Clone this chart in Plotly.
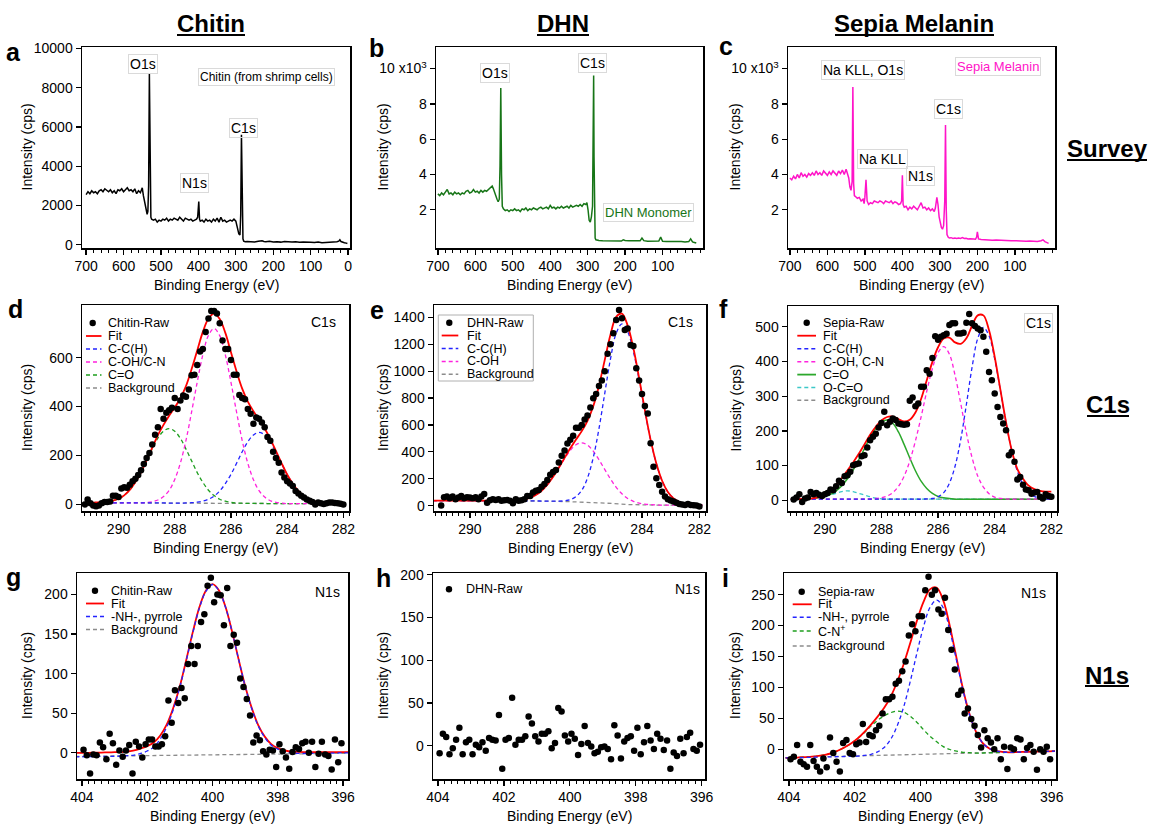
import numpy as np
import plotly.graph_objects as go

W, H = 1149, 824
FONT = "Liberation Sans, Arial, Helvetica, sans-serif"

# ======================= DATA =======================
# ---- (a) Chitin survey ----
survey_chitin_E = [700,695,690,685,680,675,670,665,660,655,650,645,640,635,630,625,620,615,610,605,600,595,590,585,580,575,570,565,560,555,550,
                   547,543,540,537,535,533,531,529,527,525,
                   520,515,510,505,500,495,490,485,480,475,470,465,460,455,450,445,440,435,430,425,420,415,410,405,
                   402,399,397,395,
                   390,385,380,375,370,365,360,355,350,345,340,335,330,325,320,315,310,305,300,
                   298,295,292,289,287,285,283,281,279,275,270,
                   260,250,240,230,225,220,
                   210,200,190,180,170,160,150,140,130,120,110,100,90,80,70,60,50,40,30,
                   25,22,19,15,10,5,2]
survey_chitin_I = [2550,2700,2600,2750,2650,2700,2600,2750,2800,2700,2850,2750,2700,2800,2650,2750,2600,2800,2750,2850,2700,2800,2900,2750,2800,2700,2850,2600,2750,2650,2900,
                   2500,2100,1800,1550,1700,3000,8700,2500,1400,1300,
                   1250,1300,1150,1250,1200,1300,1250,1350,1200,1300,1250,1350,1300,1250,1400,1300,1200,1350,1300,1250,1300,1200,1250,1300,
                   1400,2200,1300,1200,
                   1250,1150,1300,1200,1250,1150,1300,1200,1350,1150,1400,1200,1250,1150,1200,1250,1200,1300,1200,
                   1000,700,550,500,1500,5600,1500,300,180,150,160,
                   150,140,170,200,160,150,
                   170,140,150,130,160,140,130,150,120,130,110,120,110,130,100,110,120,110,150,
                   180,250,160,120,100,80,60]

# ---- (b) DHN survey ----
survey_dhn_E = [700,695,690,685,680,675,670,665,660,655,650,645,640,635,630,625,620,615,610,605,600,595,590,585,580,575,570,565,560,555,
                552,548,545,542,539,536,534,532,530,528,525,
                520,515,510,505,500,495,490,485,480,475,470,465,460,455,450,445,440,435,430,425,420,415,410,405,400,395,390,385,380,375,
                370,365,360,355,350,345,340,335,330,325,320,315,310,305,
                302,299,296,293,290,287,285,284,283,282,280,278,275,270,
                260,250,240,230,220,210,205,200,190,180,170,160,155,150,140,130,120,110,105,100,90,80,70,60,50,40,30,25,20,15,10]
survey_dhn_I = [2900,2800,2950,2850,3000,3150,2900,2950,2850,3000,2900,2950,2850,2950,2900,3050,3100,2950,3000,3150,3000,3050,2950,3100,3000,3100,3050,3150,3200,3350,
                3200,2900,2700,2600,2450,2600,4500,8900,4000,2200,2050,
                1950,2000,1900,2000,1950,2050,1950,2000,1900,2050,2000,2100,1950,2050,2000,2100,2050,2000,2100,2150,2050,2100,2150,2050,2250,2100,2150,2050,2150,2100,
                2200,2100,2150,2200,2100,2250,2150,2200,2250,2200,2300,2200,2350,2300,
                2400,2000,1400,1300,1600,2200,5500,9600,5000,1200,400,300,280,260,
                250,240,250,240,250,230,300,260,240,230,250,240,400,250,220,230,210,230,450,220,200,210,200,190,200,180,200,350,180,150,120]

# ---- (c) Sepia melanin survey ----
survey_sepia_E = [700,695,690,685,680,675,670,665,660,655,650,645,640,635,630,625,620,615,610,605,600,595,590,585,580,575,570,565,560,555,550,
                  546,543,540,537,534,532,530,528,525,
                  520,515,510,505,502,500,497,494,490,
                  485,480,475,470,465,460,455,450,445,440,435,430,425,420,415,410,405,
                  402,400,398,395,
                  390,385,380,375,370,365,360,355,350,345,340,335,330,325,320,315,
                  312,308,305,302,299,296,293,290,287,285,283,281,278,275,
                  270,265,260,255,250,245,240,235,230,225,220,215,210,205,
                  202,200,197,
                  190,180,170,160,150,140,130,120,110,100,90,80,70,60,50,40,
                  30,25,20,15,10]
survey_sepia_I = [3800,3700,3900,3750,4000,3800,4100,3900,4000,3850,4050,3950,4100,3950,4200,4000,4100,3950,4200,4050,3950,4150,4000,4200,4050,3950,4200,4050,4250,4000,4300,
                  4000,3800,3300,3100,3600,8950,3500,2800,2750,
                  2650,2700,2500,2600,2350,2700,3700,2500,2300,
                  2400,2350,2500,2450,2400,2500,2450,2350,2500,2450,2400,2500,2350,2450,2400,2300,2350,
                  2500,3950,2300,2150,
                  2200,2000,2150,2050,2200,2100,2000,2200,2400,2100,2150,2000,2100,1950,2050,1900,
                  2100,2700,2300,1600,1200,1000,900,1100,2500,6800,2000,600,450,400,
                  420,380,400,370,400,380,420,370,390,350,360,330,340,330,
                  450,750,350,
                  320,300,310,280,290,270,260,250,240,250,230,240,220,230,210,200,
                  250,300,200,150,100]

# ---- C1s raw data (binding energy grids, 0.1 eV steps) ----
c1s_chitin_raw_E = np.linspace(291.2, 282.0, 93)
c1s_chitin_raw = [0,20,5,-5,-8,-5,5,10,10,12, 35,35,30,65,70,68,80,95,105,120,
                  140,165,190,210,245,285,315,390,350,375, 385,395,435,390,425,445,440,470,528,530,
                  570,625,635,705,760,790,790,780,740,670, 635,635,590,530,530,447,435,430,390,370,
                  330,355,350,335,315,275,260,215,190,170, 130,110,95,85,75,55,45,35,28,20,
                  15,10,0,8,5,2,5,8,8,6, 5,3,0]
c1s_dhn_raw_E = np.linspace(291.0, 282.0, 91)
c1s_dhn_raw = [0,62,67,55,67,47,60,72,55,62, 60,55,62,47,67,87,22,40,47,42,
               47,37,40,42,37,17,47,37,40,47, 72,72,97,110,116,140,160,190,230,250,
               265,320,370,410,462,490,520,580,580,600, 640,670,730,798,830,890,930,1000,1130,1200,
               1281,1380,1455,1393,1306,1318,1194,1187,1021,930, 830,740,686,463,290,203,154,104,67,47,
               38,30,22,12,8,5,12,5,3,0, -7]
c1s_sepia_raw_E = np.linspace(291.1, 282.0, 92)
c1s_sepia_raw = [2,8,17,-5,5,8,24,17,21,16, 12,17,21,31,29,40,56,50,69,72,
                 82,101,104,106,127,130,152,173,183,192, 210,223,255,216,226,236,231,221,219,218,
                 219,287,296,271,279,327,327,375,365,410, 473,463,471,476,480,505,510,510,481,481,
                 483,512,537,510,502,495,490,471,428,370, 346,308,269,240,221,202,130,139,111,60,
                 67,45,31,29,19,22,24,10,5,17, 12,10]

# ---- C1s fitted curves (0.2 eV steps) ----
c1s_chitin_fit_E = np.linspace(291.2, 282.0, 47)
c1s_chitin_fit = [7,7,8,9,11,15,23,37,59,91, 131,181,232,283,325,362,396,434,484,553,
                  629,705,760,780,758,701,622,543,473,420, 381,346,310,267,219,169,122,84,54,33, 19,11,6,4,3,2,2]
c1s_chitin_CC = [7,7,7,7,7,6,6,6,6,6, 6,6,6,6,6,5,5,5,6,7,
                 9,13,21,34,55,85,123,168,215,256, 284,294,284,255,214,167,122,84,54,33, 19,11,6,4,3,2,2]
c1s_chitin_COH = [7,7,7,7,7,6,6,6,6,6, 6,8,11,18,32,57,102,169,262,378,
                  500,612,691,719,690,611,499,377,261,168, 101,56,30,15,8,5,3,3,3,3, 3,3,3,2,2,2,2]
c1s_chitin_CO = [7,7,8,9,11,15,23,37,59,91, 131,179,227,271,299,310,299,270,226,178,
                 130,90,58,36,21,13,8,6,5,4, 4,4,4,3,3,3,3,3,3,3, 3,3,2,2,2,2,2]
c1s_chitin_bg_E = [291.2, 282.0]
c1s_chitin_bg = [7, 2]

c1s_dhn_fit_E = np.linspace(291.3, 281.9, 48)
c1s_dhn_fit = [37,37,37,37,37,37,37,37,37,37, 37,37,37,38,40,42,48,60,80,111,
               155,214,282,355,426,492,554,631,739,892, 1082,1271,1404,1428,1339,1170,947,709,489,313,
               185,102,54,27,13,8,5,4]
c1s_dhn_CC = [37,37,37,37,37,37,37,37,37,37, 37,37,37,37,37,36,36,35,35,34,
              33,33,33,36,44,67,114,206,357,573, 833,1090,1282,1351,1294,1145,935,703,486,312,
              185,102,54,27,13,8,5,4]
c1s_dhn_COH = [37,37,37,37,37,37,37,37,37,37, 37,37,37,38,40,42,48,60,80,111,
               155,213,280,349,411,453,466,450,405,341, 269,198,136,88,53,32,18,11,7,5,
               4,4,4,4,4,4,4,4]
c1s_dhn_bg_E = [291.3, 288.5, 287.5, 286.5, 285.5, 285.0, 284.5, 284.0, 283.5, 281.9]
c1s_dhn_bg = [37, 37, 34, 29, 22, 16, 8, 5, 4, 4]

c1s_sepia_fit_E = np.linspace(291.2, 282.0, 47)
c1s_sepia_fit = [3,3,4,4,6,10,18,29,44,64, 86,109,134,161,189,212,230,240,241,234,
                 227,232,253,292,346,399,441,466,469,455, 451,467,503,533,533,490,413,319,225,144,
                 90,62,42,32,27,25,25]
c1s_sepia_CC = [3,3,3,3,3,3,3,3,3,3, 3,3,3,3,3,3,3,3,3,3,
                3,3,3,3,4,5,10,22,49,98, 175,276,383,466,498,474,407,317,224,144, 84,45,23,11,6,4,3]
c1s_sepia_COH = [3,3,3,3,3,3,3,3,3,3, 3,3,3,3,4,5,7,12,22,40,
                 69,113,171,240,314,380,426,443,421,360, 279,194,123,70,38,19,9,5,4,3, 3,3,3,3,3,3,3]
c1s_sepia_CO = [3,3,4,4,5,7,11,17,27,42, 62,87,117,149,181,207,225,231,222,197,
                161,122,85,55,34,20,11,7,5,3, 3,3,3,3,3,3,3,3,3,3, 3,3,3,3,3,3,3]
c1s_sepia_OCO = [3,3,3,3,4,6,10,15,20,25, 27,25,20,15,10,6,4,3,3,3,
                 3,3,3,3,3,3,3,3,3,3, 3,3,3,3,3,3,3,3,3,3, 3,3,3,3,3,3,3]
c1s_sepia_bg_E = [291.2, 282.0]
c1s_sepia_bg = [3, 3]

# ---- N1s raw data (0.1 eV steps) ----
n1s_raw_E = np.linspace(403.95, 396.05, 80)
n1s_chitin_raw = [4,-3,-26,-2,-3,13,7,-8,24,12, -15,3,-5,3,10,-26,14,8,-6,11,
                  17,17,8,8,11,21,66,38,79,63, 82,69,112,135,112,135,165,175,211,221,
                  190,200,199,161,208,135,149,139,94,83, 68,47,13,22,16,2,-2,4,3,-18,
                  11,2,-6,-20,1,7,5,12,14,0, 14,-18,-1,14,-2,-4,-21,17,-12,12]
n1s_dhn_raw = [-9,14,10,-10,-3,7,21,-10,4,7, -10,1,-2,4,-6,9,7,6,36,-27,
               7,9,56,1,7,7,11,34,26,11, 5,14,14,17,-3,3,44,40,12,5,
               14,8,-11,2,23,3,-1,-9,-7,-2, -1,-4,-16,24,12,-15,5,9,11,-6,
               21,-10,4,23,6,-4,14,8,-5,6, -27,-8,-12,8,-9,10,15,-4,-6,1]
n1s_sepia_raw = [-16,-12,7,-20,-24,-28,7,-19,-28,-36, -15,-29,19,-6,-20,-36,10,15,-6,-8,
                 8,11,41,12,23,21,31,38,58,81, 81,85,106,111,126,142,184,202,191,215,
                 215,257,279,250,257,226,219,245,193,161, 129,88,95,58,66,49,38,23,3,31,
                 18,11,0,18,-16,4,-32,3,0,18, 16,-16,2,7,-4,-33,0,-4,4,-16]

# ---- N1s fitted curves (0.2 eV steps) ----
n1s_chitin_fit_E = np.linspace(404.2, 395.8, 43)
n1s_chitin_fit = [0,0,0,0.2,0.4,0.6,0.8,1.0,1.8,3, 5.5,8.5,13,22,36,57,84,118,153,184,
                  205,213,205,184,153,118,84.5,57,35,20.5, 11,6,3,1.6,1.2,1,1,1,1,1, 1,1,1]
n1s_chitin_NH = [-5,-4.9,-4.8,-4.6,-4.5,-4.4,-4.3,-4.2,-3.6,-2.9, -0.8,2.3,7.4,17.5,32.7,54.8,82.9,117,152,183,
                 204,212.5,204.6,183.7,152.9,118,84,56,34,19.5, 9.6,4.7,1.8,-0.1,-0.6,-0.8,-0.7,-0.6,-0.5,-0.4, -0.2,-0.1,0]
n1s_chitin_bg_E = [404.2, 395.8]
n1s_chitin_bg = [-4.5, -0.5]

n1s_sepia_fit_E = np.linspace(404.1, 395.9, 42)
n1s_sepia_fit = [-14,-13.7,-13.2,-12.6,-11.9,-10.7,-8.9,-6.1,-1.9,3.4, 9.7,17.9,28.2,40,52.8,67,85.3,109.6,138.8,173.1,
                 208.4,238.6,258.9,261.2,240.4,198.7,148,97.2,56.5,27.8, 10,1.3,-2.4,-4.2,-4.9,-4.6,-4.3,-4.1,-3.8,-3.5, -3.3,-3.0]
n1s_sepia_NH = [-14.0,-13.7,-13.5,-13.2,-12.9,-12.7,-12.4,-12.1,-11.9,-11.6, -11.3,-11.1,-9.8,-8,-4.2,3,16.3,38.6,69.8,111.1,
                156.4,198.6,229.9,241.2,228.4,191.7,144,95.2,55.5,27.8, 10,1.3,-2.4,-4.2,-4.9,-4.6,-4.3,-4.1,-3.8,-3.5, -3.3,-3.0]
n1s_sepia_CN = [-14,-13.7,-13.2,-12.6,-11.9,-10.7,-8.9,-6.1,-1.9,3.4, 9.7,17.9,27.2,37.5,46.8,54,59.3,61.6,59.8,53.1,
                43.4,31.6,20.9,12.2,4.4,-0.3,-3,-4.8,-5.5,-6.2, -6,-5.7,-5.4,-5.2,-4.9,-4.6,-4.3,-4.1,-3.8,-3.5, -3.3,-3.0]
n1s_sepia_bg_E = [404.1, 395.9]
n1s_sepia_bg = [-13.5, -2.8]

# ======================= STYLE =======================
BLACK = "black"
GREEN_SURVEY = "#177517"
MAGENTA_SURVEY = "#ff14c8"
RED = "#ff0000"
BLUE = "#2323ff"
MAG = "#ff22dd"
GREEN_D = "#1e9e1e"
GREEN_S = "#2ca82c"
CYAN = "#3cc8c8"
GRAY = "#8c8c8c"
DASH = "4px,3px"


def fx(px):
    return px / W


def fy(py):
    return 1 - py / H


# panel frames in pixels: left, right, top, bottom
BOX = {
    1: (82, 350, 47, 248), 2: (436, 703, 47, 248), 3: (788, 1055, 47, 248),
    4: (82, 349, 305, 511), 5: (434, 706, 305, 511), 6: (788, 1057, 306, 511),
    7: (77, 348, 573, 779), 8: (433, 705, 573, 779), 9: (784, 1056, 573, 779),
}


def sfx(n):
    return "" if n == 1 else str(n)


fig = go.Figure()
annotations = []
shapes = []


def add_line(n, x, y, color, width=1.5, dash=None, spline=False):
    fig.add_trace(go.Scatter(x=x, y=y, mode="lines",
                             line=dict(color=color, width=width, dash=dash,
                                       shape="spline" if spline else "linear"),
                             xaxis="x" + sfx(n), yaxis="y" + sfx(n),
                             showlegend=False, hoverinfo="skip"))


def add_dots(n, x, y):
    fig.add_trace(go.Scatter(x=x, y=y, mode="markers",
                             marker=dict(color="black", size=6.5, line=dict(width=0)),
                             xaxis="x" + sfx(n), yaxis="y" + sfx(n),
                             showlegend=False, hoverinfo="skip"))


layout_axes = {}


def setup_axes(n, xr, yr, xt, yt, yticktext=None, xminor=0.2):
    l, r, t, b = BOX[n]
    layout_axes["xaxis" + sfx(n)] = dict(
        domain=[fx(l), fx(r)], anchor="y" + sfx(n), range=xr, tickvals=xt,
        ticks="outside", ticklen=5, tickwidth=1.3, tickcolor="black",
        showline=True, linewidth=1.5, linecolor="black", mirror=True,
        showgrid=False, zeroline=False, automargin=False,
        tickfont=dict(size=14, color="black", family=FONT),
        minor=dict(tick0=0, dtick=xminor, ticks="outside", ticklen=3, tickwidth=1,
                   tickcolor="black", showgrid=False))
    ya = dict(
        domain=[fy(b), fy(t)], anchor="x" + sfx(n), range=yr, tickvals=yt,
        ticks="outside", ticklen=5, tickwidth=1.3, tickcolor="black", tickformat="d",
        showline=True, linewidth=1.5, linecolor="black", mirror=True,
        showgrid=False, zeroline=False, automargin=False,
        tickfont=dict(size=14, color="black", family=FONT))
    if yticktext is not None:
        ya["ticktext"] = yticktext
    layout_axes["yaxis" + sfx(n)] = ya
    # axis titles
    annotations.append(dict(text="Binding Energy (eV)", x=fx((l + r) / 2), y=fy(b + 37),
                            xref="paper", yref="paper", showarrow=False,
                            font=dict(size=14, color="black"), xanchor="center", yanchor="middle"))
    col_x = {82: 27, 77: 27, 436: 383, 434: 383, 433: 383, 788: 735, 784: 735}[l]
    annotations.append(dict(text="Intensity (cps)", x=fx(col_x), y=fy((t + b) / 2),
                            xref="paper", yref="paper", showarrow=False, textangle=-90,
                            font=dict(size=14, color="black"), xanchor="center", yanchor="middle"))


def data_label(n, text, x, y, size=14, color="black", box=True):
    d = dict(text=text, x=x, y=y, xref="x" + sfx(n), yref="y" + sfx(n), showarrow=False,
             font=dict(size=size, color=color), xanchor="center", yanchor="middle")
    if box:
        d.update(bordercolor="#dadada", borderwidth=1, borderpad=1)
    annotations.append(d)


def px_label(text, px, py, size=14, box=False, xanchor="center"):
    d = dict(text=text, x=fx(px), y=fy(py), xref="paper", yref="paper", showarrow=False,
             font=dict(size=size, color="black"), xanchor=xanchor, yanchor="middle")
    if box:
        d.update(bordercolor="#dadada", borderwidth=1, borderpad=1)
    annotations.append(d)


def heading(text, cx, cy, ux0, ux1, uy):
    px_label("<b>" + text + "</b>", cx, cy, size=24)
    shapes.append(dict(type="line", xref="paper", yref="paper",
                       x0=fx(ux0), x1=fx(ux1), y0=fy(uy), y1=fy(uy),
                       line=dict(color="black", width=2.2)))


def legend(items, rows, dot_x, lx0, lx1, tx):
    for (label, kind, color, dash), yy in zip(items, rows):
        if kind == "dot":
            shapes.append(dict(type="circle", xref="paper", yref="paper",
                               x0=fx(dot_x - 3.2), x1=fx(dot_x + 3.2), y0=fy(yy + 3.2), y1=fy(yy - 3.2),
                               fillcolor="black", line=dict(width=0)))
        else:
            shapes.append(dict(type="line", xref="paper", yref="paper",
                               x0=fx(lx0), x1=fx(lx1), y0=fy(yy), y1=fy(yy),
                               line=dict(color=color, width=1.8 if dash is None else 1.4, dash=dash)))
        annotations.append(dict(text=label, x=fx(tx), y=fy(yy), xref="paper", yref="paper",
                                showarrow=False, xanchor="left", yanchor="middle", borderpad=0,
                                font=dict(size=12.5, color="black")))


# ======================= SURVEY =======================
add_line(1, survey_chitin_E, survey_chitin_I, BLACK, 1.5)
setup_axes(1, [711, -5], [-170, 10080], [700, 600, 500, 400, 300, 200, 100, 0],
           [0, 2000, 4000, 6000, 8000, 10000], xminor=20)
data_label(1, "O1s", 547, 9190)
data_label(1, "N1s", 411, 3150)
data_label(1, "C1s", 280, 5940)
data_label(1, "Chitin (from shrimp cells)", 219, 8530, size=12)

add_line(2, survey_dhn_E, survey_dhn_I, GREEN_SURVEY, 1.5)
setup_axes(2, [705, -8], [-165, 11220], [700, 600, 500, 400, 300, 200, 100],
           [2000, 4000, 6000, 8000, 10000], ["2", "4", "6", "8", "10 x10<sup>3</sup>"], xminor=20)
data_label(2, "O1s", 548, 9720)
data_label(2, "C1s", 287, 10290)
data_label(2, "DHN Monomer", 137, 1870, size=13, color=GREEN_SURVEY)

add_line(3, survey_sepia_E, survey_sepia_I, MAGENTA_SURVEY, 1.5)
setup_axes(3, [705, -7], [-165, 11220], [700, 600, 500, 400, 300, 200, 100],
           [2000, 4000, 6000, 8000, 10000], ["2", "4", "6", "8", "10 x10<sup>3</sup>"], xminor=20)
data_label(3, "Na KLL, O1s", 505, 9910)
data_label(3, "Sepia Melanin", 144, 10100, size=13, color=MAGENTA_SURVEY)
data_label(3, "Na KLL", 453, 4860)
data_label(3, "N1s", 353, 3940)
data_label(3, "C1s", 278, 7690)

# ======================= C1s =======================
add_line(4, c1s_chitin_bg_E, c1s_chitin_bg, GRAY, 1.3, DASH)
add_line(4, c1s_chitin_fit_E, c1s_chitin_CO, GREEN_D, 1.3, DASH, True)
add_line(4, c1s_chitin_fit_E, c1s_chitin_COH, MAG, 1.3, DASH, True)
add_line(4, c1s_chitin_fit_E, c1s_chitin_CC, BLUE, 1.3, DASH, True)
add_line(4, c1s_chitin_fit_E, c1s_chitin_fit, RED, 1.8, None, True)
add_dots(4, c1s_chitin_raw_E, c1s_chitin_raw)
setup_axes(4, [291.3, 281.8], [-27, 815], [290, 288, 286, 284, 282], [0, 200, 400, 600], xminor=0.2)
px_label("C1s", 323, 322)
legend([("Chitin-Raw", "dot", "black", None), ("Fit", "line", RED, None),
        ("C-C(H)", "line", BLUE, DASH), ("C-OH/C-N", "line", MAG, DASH),
        ("C=O", "line", GREEN_D, DASH), ("Background", "line", GRAY, DASH)],
       [323, 336, 349, 362, 375, 388], 92.7, 86, 101.5, 107)

add_line(5, c1s_dhn_bg_E, c1s_dhn_bg, GRAY, 1.3, DASH)
add_line(5, c1s_dhn_fit_E, c1s_dhn_COH, MAG, 1.3, DASH, True)
add_line(5, c1s_dhn_fit_E, c1s_dhn_CC, BLUE, 1.3, DASH, True)
add_line(5, c1s_dhn_fit_E, c1s_dhn_fit, RED, 1.8, None, True)
add_dots(5, c1s_dhn_raw_E, c1s_dhn_raw)
setup_axes(5, [291.25, 281.77], [-40, 1492], [290, 288, 286, 284, 282],
           [0, 200, 400, 600, 800, 1000, 1200, 1400], xminor=0.2)
px_label("C1s", 680, 322)
shapes.append(dict(type="rect", xref="paper", yref="paper", x0=fx(438.3), x1=fx(533.3),
                   y0=fy(381), y1=fy(315), line=dict(color="#b0b0b0", width=1), fillcolor="rgba(0,0,0,0)"))
legend([("DHN-Raw", "dot", "black", None), ("Fit", "line", RED, None),
        ("C-C(H)", "line", BLUE, DASH), ("C-OH", "line", MAG, DASH),
        ("Background", "line", GRAY, DASH)],
       [322.7, 335.5, 348.5, 361.5, 374.3], 449.3, 441.7, 458.3, 466)

add_line(6, c1s_sepia_bg_E, c1s_sepia_bg, GRAY, 1.3, DASH)
add_line(6, c1s_sepia_fit_E, c1s_sepia_OCO, CYAN, 1.3, DASH, True)
add_line(6, c1s_sepia_fit_E, c1s_sepia_CO, GREEN_S, 1.5, None, True)
add_line(6, c1s_sepia_fit_E, c1s_sepia_COH, MAG, 1.3, DASH, True)
add_line(6, c1s_sepia_fit_E, c1s_sepia_CC, BLUE, 1.3, DASH, True)
add_line(6, c1s_sepia_fit_E, c1s_sepia_fit, RED, 1.8, None, True)
add_dots(6, c1s_sepia_raw_E, c1s_sepia_raw)
setup_axes(6, [291.3, 281.8], [-31, 560], [290, 288, 286, 284, 282],
           [0, 100, 200, 300, 400, 500], xminor=0.2)
px_label("C1s", 1038, 323, box=True)
legend([("Sepia-Raw", "dot", "black", None), ("Fit", "line", RED, None),
        ("C-C(H)", "line", BLUE, DASH), ("C-OH, C-N", "line", MAG, DASH),
        ("C=O", "line", GREEN_S, None), ("O-C=O", "line", CYAN, DASH),
        ("Background", "line", GRAY, DASH)],
       [322.7, 335.7, 348.8, 361.8, 374.6, 387.5, 400.3], 806.7, 797.3, 816, 821.7)

# ======================= N1s =======================
add_line(7, n1s_chitin_bg_E, n1s_chitin_bg, GRAY, 1.3, DASH)
add_line(7, n1s_chitin_fit_E, n1s_chitin_fit, RED, 1.8, None, True)
add_line(7, n1s_chitin_fit_E, n1s_chitin_NH, BLUE, 1.3, DASH, True)
add_dots(7, n1s_raw_E, n1s_chitin_raw)
setup_axes(7, [404.15, 395.85], [-33, 227], [404, 402, 400, 398, 396],
           [0, 50, 100, 150, 200], xminor=0.2)
px_label("N1s", 327, 592)
legend([("Chitin-Raw", "dot", "black", None), ("Fit", "line", RED, None),
        ("-NH-, pyrrole", "line", BLUE, DASH), ("Background", "line", GRAY, DASH)],
       [590.7, 603.5, 616.5, 629.5], 95, 86, 104, 110)

add_dots(8, n1s_raw_E, n1s_dhn_raw)
setup_axes(8, [404.15, 395.9], [-39, 202], [404, 402, 400, 398, 396],
           [0, 50, 100, 150, 200], xminor=0.2)
px_label("N1s", 687, 589)
legend([("DHN-Raw", "dot", "black", None)], [589.3], 449, 440, 456, 465)

add_line(9, n1s_sepia_bg_E, n1s_sepia_bg, GRAY, 1.3, DASH)
add_line(9, n1s_sepia_fit_E, n1s_sepia_CN, GREEN_D, 1.3, DASH, True)
add_line(9, n1s_sepia_fit_E, n1s_sepia_fit, RED, 1.8, None, True)
add_line(9, n1s_sepia_fit_E, n1s_sepia_NH, BLUE, 1.3, DASH, True)
add_dots(9, n1s_raw_E, n1s_sepia_raw)
setup_axes(9, [404.15, 395.87], [-48, 285], [404, 402, 400, 398, 396],
           [0, 50, 100, 150, 200, 250], xminor=0.2)
px_label("N1s", 1033, 593)
legend([("Sepia-raw", "dot", "black", None), ("Fit", "line", RED, None),
        ("-NH-, pyrrole", "line", BLUE, DASH), ("C-N<sup>+</sup>", "line", GREEN_D, DASH),
        ("Background", "line", GRAY, DASH)],
       [591.7, 604.3, 617.3, 631, 646], 801.7, 792.7, 811.7, 817.3)

# ======================= HEADINGS =======================
heading("Chitin", 211, 24, 177, 245, 35)
heading("DHN", 563, 24, 537, 589, 35)
heading("Sepia Melanin", 914, 24, 835, 994, 35)
heading("Survey", 1107, 149, 1067, 1147, 160)
heading("C1s", 1108, 405, 1087, 1129, 416)
heading("N1s", 1107, 675, 1085, 1129, 686)
for letter, (lx, ly) in {"a": (13, 52), "b": (376, 48), "c": (726, 46),
                         "d": (15, 309), "e": (377, 310), "f": (723, 309),
                         "g": (13, 577), "h": (383, 578), "i": (725, 578)}.items():
    px_label("<b>" + letter + "</b>", lx, ly, size=25)

fig.update_layout(
    width=W, height=H, margin=dict(l=0, r=0, t=0, b=0),
    paper_bgcolor="white", plot_bgcolor="white",
    font=dict(family=FONT, size=14, color="black"),
    showlegend=False, annotations=annotations, shapes=shapes,
    **layout_axes)

fig.write_html("out.html",
               config={"displayModeBar": False, "staticPlot": True},
               post_script="document.body.style.margin='0px';document.body.style.overflow='hidden';")
